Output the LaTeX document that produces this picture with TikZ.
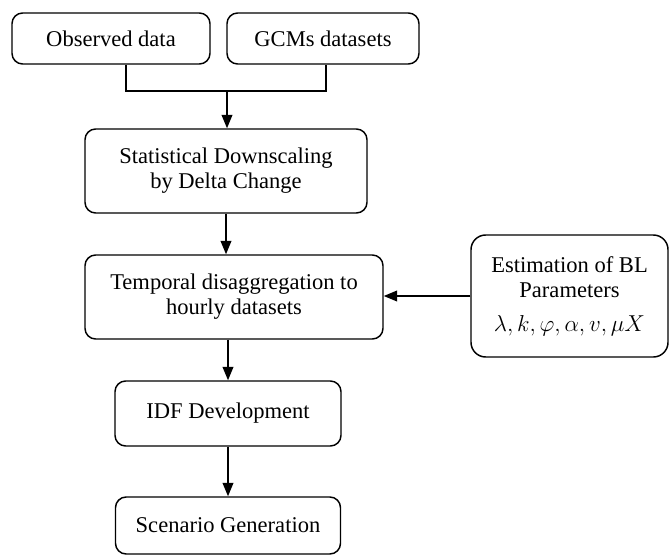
\documentclass[tikz,border=0pt]{standalone}
\usepackage{fontspec}
\setmainfont{Liberation Serif}
\newfontfamily\tnrfont{Liberation Serif}
\usetikzlibrary{arrows.meta,calc}
\begin{document}
\begin{tikzpicture}[x=0.75pt,y=-0.75pt,
  box/.style={draw, line width=1.1pt, rounded corners=8pt, align=center, inner sep=0pt,
    font=\tnrfont\fontsize{16.9}{18.75}\selectfont},
  conn/.style={line width=1.1pt},
  arr/.style={conn, -{Triangle[length=10pt,width=8pt]}}]
\useasboundingbox (0,0) rectangle (670,556);
\node[box, minimum width=148.5pt, minimum height=38.25pt] (obs) at (111,38.5) {Observed data};
\node[box, minimum width=144pt, minimum height=38.25pt] (gcm) at (323,38.5) {GCMs datasets};
\node[box, minimum width=211.5pt, minimum height=63pt] (stat) at (226,171) {Statistical Downscaling\\by Delta Change};
\node[box, minimum width=223.5pt, minimum height=63pt] (temp) at (234,297) {Temporal disaggregation to\\hourly datasets};
\node[box, rounded corners=11pt, minimum width=147.75pt, minimum height=91.5pt] (est) at (569.5,296) {Estimation of BL\\Parameters\\[7pt]$\lambda, k, \varphi, \alpha, v, \mu X$};
\node[box, minimum width=169.5pt, minimum height=48.75pt] (idf) at (228,413.5) {IDF Development};
\node[box, minimum width=168.75pt, minimum height=42.75pt] (scen) at (228,525.5) {Scenario Generation};
\coordinate (j1) at (126,91);
\coordinate (j2) at (326,91);
\coordinate (jm) at (227,91);
\draw[conn] (obs.south -| j1) -- (j1) -- (j2) -- (gcm.south -| j2);
\draw[arr] (jm) -- (stat.north -| jm);
\draw[arr] (stat.south) -- (stat.south |- temp.north);
\draw[arr] (est.west) -- (est.west -| temp.east);
\draw[arr] (temp.south -| idf.north) -- (idf.north);
\draw[arr] (idf.south) -- (scen.north);
\end{tikzpicture}
\end{document}
